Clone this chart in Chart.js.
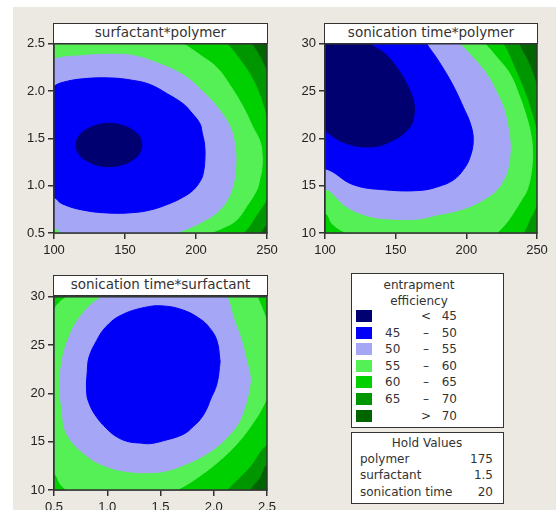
<!DOCTYPE html>
<html>
<head>
<meta charset="utf-8">
<script src="https://cdn.jsdelivr.net/npm/chart.js@4.4.1/dist/chart.umd.min.js"></script>
<style>
  body { margin: 0; width: 556px; height: 510px; overflow: hidden; background: #fff; position: relative; font-family: "DejaVu Sans", sans-serif; color: #333; }
  #bg { position: absolute; left: 13px; top: 7px; right: 0; bottom: 0; background: #ece9e3; }
  canvas { position: absolute; }
  .ptitle { position: absolute; box-sizing: border-box; height: 21px; background: #fff; border: 1.5px solid #333;
            font-size: 13.5px; line-height: 17px; text-align: center; z-index: 2; color: #333; }
  .box { position: absolute; box-sizing: border-box; background: #fff; border: 1.5px solid #333; z-index: 2; }
  .box div { position: absolute; font-size: 12px; line-height: 14px; white-space: nowrap; }
</style>
</head>
<body>
<div id="bg"></div>

<div class="ptitle" style="left:53px;top:23px;width:215px;">surfactant*polymer</div>
<div class="ptitle" style="left:324px;top:23px;width:214px;">sonication time*polymer</div>
<div class="ptitle" style="left:53px;top:275px;width:215px;">sonication time*surfactant</div>

<canvas id="c1" width="273" height="226" style="left:10px;top:33px;"></canvas>
<canvas id="c2" width="272" height="226" style="left:281px;top:33px;"></canvas>
<canvas id="c3" width="273" height="230" style="left:10px;top:286px;"></canvas>

<div class="box" id="legend" style="left:351px;top:273px;width:153px;height:155px;"></div>
<div class="box" id="hold" style="left:351px;top:432px;width:153px;height:72px;"></div>

<script>
// contour levels: <45, 45-50, 50-55, 55-60, 60-65, 65-70, >70
const levelColors = ['#000070', '#0000f8', '#a6a6f6', '#55f055', '#00d000', '#009600', '#006400'];
const levelLo  = ['',  '45', '50', '55', '60', '65', ''];
const levelSep = ['<', '\u2013', '\u2013', '\u2013', '\u2013', '\u2013', '>'];
const levelHi  = ['45', '50', '55', '60', '65', '70', '70'];

const holdNames  = ['polymer', 'surfactant', 'sonication time'];
const holdValues = ['175', '1.5', '20'];

// axes
const polymerTicks = [100, 150, 200, 250];
const polymerLabels = ['100', '150', '200', '250'];
const surfactantTicks = [0.5, 1.0, 1.5, 2.0, 2.5];
const surfactantLabels = ['0.5', '1.0', '1.5', '2.0', '2.5'];
const timeTicks = [10, 15, 20, 25, 30];
const timeLabels = ['10', '15', '20', '25', '30'];

// surfactant (y) vs polymer (x) - boundary of each level region
const sp45 = [[162,1.43],[160.2,1.52],[155.2,1.59],[147.6,1.64],[138.8,1.66],[129.9,1.64],[122.3,1.59],[117.3,1.52],[115.5,1.43],[117.3,1.34],[122.3,1.27],[129.9,1.22],[138.8,1.20],[147.6,1.22],[155.2,1.27],[160.2,1.34],[162,1.43]];
const sp50 = [[74,1.42],[80,1.1],[93,0.93],[100,0.88],[105.6,0.81],[121,0.74],[140,0.71],[155,0.715],[167.6,0.742],[181.7,0.813],[191,0.88],[198,0.953],[203,1.05],[205.1,1.13],[206.3,1.29],[206,1.44],[204.5,1.55],[202.8,1.655],[197,1.77],[191,1.865],[180,1.97],[167.6,2.07],[155,2.115],[140,2.139],[120,2.13],[105.6,2.09],[100,2.05],[90,1.92],[78,1.7],[74,1.42]];
const sp55 = [[52,1.42],[60,1.0],[78,0.72],[100,0.56],[107,0.5],[125,0.46],[150,0.44],[172,0.46],[185,0.5],[198,0.57],[207,0.64],[215,0.72],[222,0.85],[226.3,1.02],[228,1.22],[227.5,1.41],[224,1.62],[215,1.83],[203,2.02],[191,2.17],[174,2.29],[156,2.375],[140,2.39],[120,2.375],[100,2.335],[78,2.15],[60,1.85],[52,1.42]];
const sp60 = [[30,1.4],[40,0.3],[100,0.1],[150,0.2],[190,0.38],[210,0.5],[220,0.56],[228.6,0.637],[236,0.79],[242.7,0.953],[244.8,1.06],[246.5,1.2],[246.5,1.34],[245,1.47],[240,1.62],[233.3,1.83],[224,2.06],[214.6,2.25],[203,2.38],[191,2.5],[160,2.75],[100,3.0],[40,2.6],[30,1.4]];
const sp65 = [[30,1.3],[40,0.0],[150,0.0],[215,0.3],[233.3,0.5],[243,0.7],[250,0.88],[253,1.3],[250,1.69],[245,1.95],[239,2.15],[231,2.33],[222,2.5],[205,2.75],[150,3.1],[40,2.9],[30,1.3]];
const sp70 = [[30,1.3],[40,-0.1],[150,-0.1],[230,0.3],[245,0.5],[248,0.56],[250,0.6],[258,1.4],[250,2.18],[245,2.36],[239,2.5],[222,2.8],[150,3.3],[40,3.0],[30,1.3]];

// sonication time (y) vs polymer (x)
const tp45 = [[60,24],[60,35],[100,35],[120,32],[131.8,30],[142,29],[150.7,27.5],[157,26],[162.5,24],[163,22.5],[160.1,21.2],[148.3,19.8],[131.8,19.1],[112.9,19.6],[100,20.8],[80,22.5],[60,24]];
const tp50 = [[60,17.5],[60,35],[165,32],[172,30],[179,28.5],[186.1,26.8],[192,25.2],[197.9,23.3],[203,21.5],[204.9,19.8],[202.6,18.0],[198,16.7],[190.8,15.6],[180,14.9],[167.2,14.5],[143.6,14.55],[120,15.1],[100,16.8],[60,17.5]];
const tp55 = [[60,16],[60,35],[185,32],[195.5,30],[205,28.5],[214.4,26.8],[221,25],[226.2,23.3],[229,21.6],[230.9,19.8],[231,18.5],[229.7,17.0],[227,15.8],[221.5,14.55],[213,13.6],[202.6,12.8],[192,12.3],[179,11.9],[167.2,11.5],[150,11.45],[131.8,11.75],[115,12.8],[100,14.7],[60,16]];
const tp60 = [[60,13],[60,35],[200,32],[213.2,30],[222,28.5],[230.9,26.8],[237.5,24.5],[242.7,22.2],[245.5,20.5],[246.8,18.75],[246,16.5],[243,14.55],[239,13.5],[233.2,12.1],[228,11],[221.5,10],[215,9.2],[170,8.5],[125,9.2],[115.3,10],[110,10.4],[105,11.0],[100,12.1],[60,13]];
const tp65 = [[60,5],[60,35],[210,33],[226,30],[234,27.5],[241,25],[246,22.8],[250,20.5],[254,17],[250,13.15],[245,11.5],[240.3,10],[230,8],[100,5],[60,5]];
const tp70 = [[60,0],[60,40],[220,36],[237,30],[244,28],[250,25.5],[262,20],[270,0],[60,0]];

// sonication time (y) vs surfactant (x)
const ts50 = [[2.06,23.3],[2.03,25.46],[1.96,26.8],[1.873,27.7],[1.72,28.6],[1.53,29.05],[1.35,28.9],[1.12,28.04],[0.98,26.8],[0.90,25.46],[0.83,23.8],[0.813,22.37],[0.807,20.0],[0.84,18.7],[0.90,17.55],[0.99,16.4],[1.09,15.5],[1.2,15.0],[1.31,14.86],[1.40,14.8],[1.528,15.1],[1.716,15.77],[1.81,16.6],[1.873,17.3],[1.93,18.3],[1.967,19.3],[2.03,21.0],[2.06,23.3]];
const ts55 = [[1.5,33],[0.95,30],[0.75,28],[0.63,25.5],[0.57,23],[0.556,20.65],[0.575,18.3],[0.62,15.8],[0.8,13.6],[1.0,12.4],[1.2,11.9],[1.4,11.8],[1.56,12.0],[1.72,12.6],[1.873,13.37],[2.02,14.4],[2.124,15.43],[2.22,16.7],[2.28,18.17],[2.325,20],[2.343,21.6],[2.31,23.3],[2.26,25.5],[2.186,27.8],[2.124,30],[2.0,32],[1.5,33]];
const ts60 = [[0.3,20],[0.35,12],[0.5,11.72],[0.56,10.6],[0.62,10],[0.8,8.8],[1.2,8.0],[1.65,10],[1.85,11.3],[2.05,13.0],[2.22,14.8],[2.36,16.8],[2.46,18.6],[2.53,20.5],[2.56,23],[2.53,26],[2.5,27.45],[2.41,30],[2.3,33],[1.5,36],[0.62,30],[0.5,28.56],[0.3,20]];
const ts65 = [[-0.5,5],[-0.5,40],[3.5,40],[3.0,18],[2.5,14.7],[2.33,12.3],[2.124,10],[1.9,7],[-0.5,5]];
const ts70 = [[-0.5,2],[-0.5,45],[3.5,45],[3.0,16],[2.5,12.7],[2.43,11.3],[2.34,10],[2.2,7],[-0.5,2]];

// fills the plot area with the top level and draws the frame
const framePlugin = {
  id: 'frame',
  beforeDatasetsDraw(chart) {
    const a = chart.chartArea, ctx = chart.ctx;
    ctx.save();
    ctx.fillStyle = levelColors[6];
    ctx.fillRect(a.left, a.top, a.right - a.left, a.bottom - a.top);
    ctx.restore();
  },
  afterDatasetsDraw(chart) {
    const a = chart.chartArea, ctx = chart.ctx;
    ctx.save();
    ctx.strokeStyle = '#333';
    ctx.lineWidth = 1.5;
    ctx.strokeRect(a.left, a.top, a.right - a.left, a.bottom - a.top);
    ctx.restore();
  }
};

function axis(min, max, ticks, labels, isX) {
  return {
    type: 'linear',
    min: min,
    max: max,
    afterBuildTicks: s => { s.ticks = ticks.map(v => ({ value: v })); },
    afterFit: s => { if (isX) s.height = 26; else s.width = 44; },
    grid: { drawOnChartArea: false, drawTicks: true, tickLength: 6, color: '#333', lineWidth: 1.5 },
    border: { display: true, color: '#333', width: 1.5 },
    ticks: {
      autoSkip: false, maxRotation: 0, padding: isX ? 4 : 3,
      color: '#222', font: { family: 'Liberation Sans', size: 13 },
      callback: (v, i) => labels[i]
    }
  };
}

function contour(id, layers, xAxis, yAxis) {
  // layers go innermost first, so the outer ones sit underneath
  const datasets = layers.map(([lvl, pts]) => ({
    data: pts.map(p => ({ x: p[0], y: p[1] })),
    fill: 'shape',
    backgroundColor: levelColors[lvl],
    borderColor: levelColors[lvl],
    borderWidth: 1,
    pointRadius: 0,
    tension: 0.4,
    clip: 0
  }));
  new Chart(document.getElementById(id), {
    type: 'line',
    data: { datasets: datasets },
    options: {
      responsive: false,
      animation: false,
      events: [],
      layout: { padding: { left: 0, top: 10, right: 16, bottom: 0 } },
      elements: { line: { capBezierPoints: false } },
      plugins: { legend: { display: false }, tooltip: { enabled: false } },
      scales: { x: xAxis, y: yAxis }
    },
    plugins: [framePlugin]
  });
}

contour('c1', [[0, sp45], [1, sp50], [2, sp55], [3, sp60], [4, sp65], [5, sp70]],
  axis(100, 250, polymerTicks, polymerLabels, true),
  axis(0.5, 2.5, surfactantTicks, surfactantLabels, false));

contour('c2', [[0, tp45], [1, tp50], [2, tp55], [3, tp60], [4, tp65], [5, tp70]],
  axis(100, 250, polymerTicks, polymerLabels, true),
  axis(10, 30, timeTicks, timeLabels, false));

contour('c3', [[1, ts50], [2, ts55], [3, ts60], [4, ts65], [5, ts70]],
  axis(0.5, 2.5, surfactantTicks, surfactantLabels, true),
  axis(10, 30, timeTicks, timeLabels, false));

// legend boxes
function put(parent, text, css) {
  const d = document.createElement('div');
  d.textContent = text;
  Object.assign(d.style, css);
  parent.appendChild(d);
  return d;
}

const legend = document.getElementById('legend');
put(legend, 'entrapment', { left: '0px', width: '134px', textAlign: 'center', top: '4px' });
put(legend, 'efficiency', { left: '0px', width: '134px', textAlign: 'center', top: '20px' });
levelColors.forEach((c, i) => {
  const y = 36 + i * 16.6;
  put(legend, '', { left: '4px', top: y + 'px', width: '16px', height: '12px', background: c });
  put(legend, levelLo[i], { left: '33px', top: (y - 1) + 'px' });
  put(legend, levelSep[i], { left: '64px', width: '20px', textAlign: 'center', top: (y - 1) + 'px' });
  put(legend, levelHi[i], { left: '80px', width: '25px', textAlign: 'right', top: (y - 1) + 'px' });
});

const hold = document.getElementById('hold');
put(hold, 'Hold Values', { left: '0px', width: '150px', textAlign: 'center', top: '3px' });
holdNames.forEach((n, i) => {
  const y = 19 + i * 16.3;
  put(hold, n, { left: '8px', top: y + 'px' });
  put(hold, holdValues[i], { left: '100px', width: '41px', textAlign: 'right', top: y + 'px' });
});
</script>
</body>
</html>
